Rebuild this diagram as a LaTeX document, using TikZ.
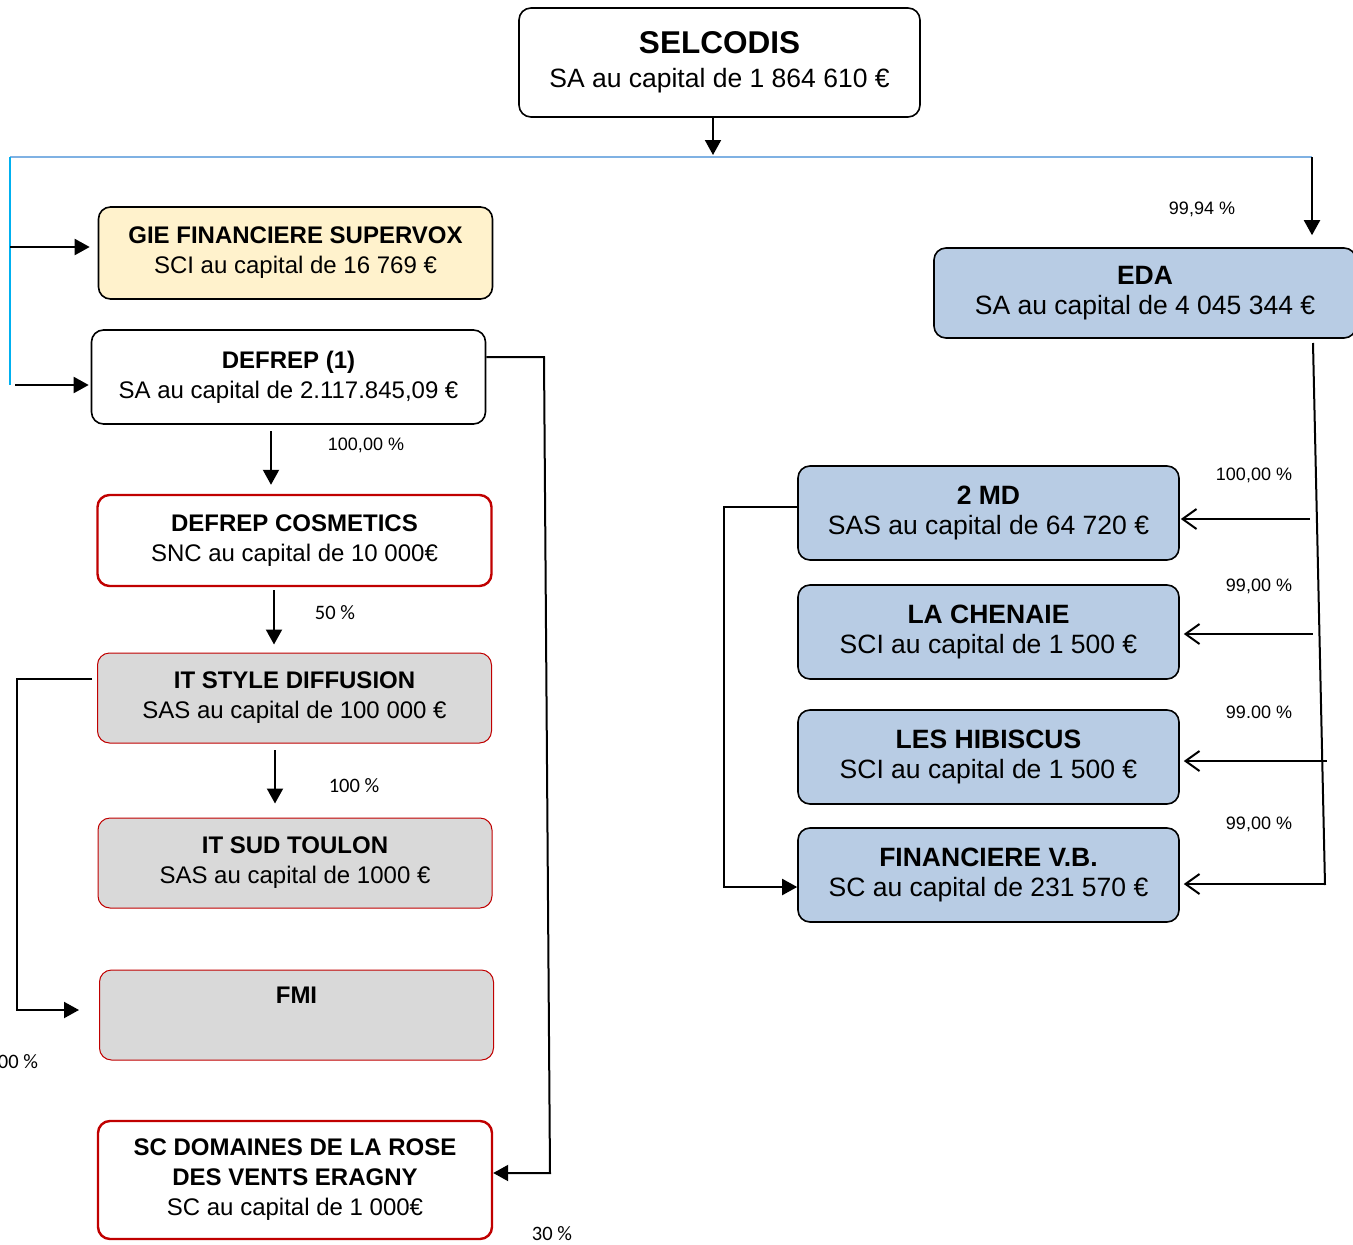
\documentclass[tikz,border=0pt]{standalone}
\usepackage{fontspec}
\setmainfont{Liberation Sans}
\newfontfamily\calib{Carlito}
\usetikzlibrary{arrows.meta}
\definecolor{creme}{HTML}{FFF2CC}
\definecolor{bleu}{HTML}{B8CCE4}
\definecolor{gris}{HTML}{D9D9D9}
\definecolor{rouge}{HTML}{C00000}
\definecolor{trait}{HTML}{7FB1E3}
\definecolor{ciel}{HTML}{00B0F0}
\tikzset{
  societe/.style={draw, line width=1.6pt, rounded corners=12pt, align=center, inner sep=0pt},
  gauche/.style={societe, minimum width=394pt, minimum height=92pt, font=\fontsize{24}{30}\selectfont},
  droite/.style={societe, fill=bleu, minimum width=381pt, minimum height=94pt, font=\fontsize{26.5}{30}\selectfont},
  rougefin/.style={draw=rouge, line width=1pt, fill=gris},
  rougeep/.style={draw=rouge, line width=2.4pt},
  pct/.style={font=\fontsize{18}{20}\selectfont},
  pctc/.style={font=\calib\fontsize{20.5}{22}\selectfont},
  ouvert/.style={{Straight Barb[length=14pt,width=20pt]}-},
}
\begin{document}
\begin{tikzpicture}[x=1pt, y=-1pt, >={Triangle[length=15pt,width=16pt]}, line width=2pt]
\useasboundingbox (0,0) rectangle (1353,1245);
\node[societe, minimum width=401pt, minimum height=109pt, font=\fontsize{26.5}{34}\selectfont] (selcodis) at (719.5,62.5) {{\fontsize{31.5}{34}\selectfont\textbf{SELCODIS}}\\SA au capital de 1 864 610 €};
\node[gauche, fill=creme] (gie) at (295.5,253) {\textbf{GIE FINANCIERE SUPERVOX}\\SCI au capital de 16 769 €};
\node[gauche, minimum height=94pt] (defrep) at (288.5,377) {\textbf{DEFREP (1)}\\SA au capital de 2.117.845,09 €};
\node[gauche, rougeep, minimum height=91pt] (cosmetics) at (294.5,540.5) {\textbf{DEFREP COSMETICS}\\SNC au capital de 10 000€};
\node[gauche, rougefin, minimum height=90pt] (itstyle) at (294.5,698) {\textbf{IT STYLE DIFFUSION}\\SAS au capital de 100 000 €};
\node[gauche, rougefin, minimum height=90pt] (itsud) at (295,863) {\textbf{IT SUD TOULON}\\SAS au capital de 1000 €};
\node[gauche, rougefin, minimum height=90pt] (fmi) at (296.5,1015) {\textbf{FMI}\\ \strut};
\node[gauche, rougeep, minimum height=118pt] (domaines) at (295,1180) {\textbf{SC DOMAINES DE LA ROSE}\\\textbf{DES VENTS ERAGNY}\\SC au capital de 1 000€};
\node[droite, minimum width=422pt, minimum height=90pt] (eda) at (1145,293) {\textbf{EDA}\\SA au capital de 4 045 344 €};
\node[droite] (md) at (988.5,513) {\textbf{2 MD}\\SAS au capital de 64 720 €};
\node[droite] (chenaie) at (988.5,632) {\textbf{LA CHENAIE}\\SCI au capital de 1 500 €};
\node[droite] (hibiscus) at (988.5,757) {\textbf{LES HIBISCUS}\\SCI au capital de 1 500 €};
\node[droite] (finvb) at (988.5,875) {\textbf{FINANCIERE V.B.}\\SC au capital de 231 570 €};
\node[pct] (p1) at (1202,209) {99,94 \%};
\node[pct] (p2) at (366,445) {100,00 \%};
\node[pctc] (p3) at (335,613) {50 \%};
\node[pctc] (p4) at (354,786) {100 \%};
\node[pctc] (p5) at (18,1062) {00 \%};
\node[pctc] (p6) at (552,1234) {30 \%};
\node[pct] (p7) at (1254,475) {100,00 \%};
\node[pct] (p8) at (1259,586) {99,00 \%};
\node[pct] (p9) at (1259,712) {99.00 \%};
\node[pct] (p10) at (1259,824) {99,00 \%};
\coordinate (gb) at (10,157);
\coordinate (db) at (1312,157);
\coordinate (mb) at (713,157);
\coordinate (gbas) at (10,385);
\draw[->, shorten >=2pt] (selcodis.south -| mb) -- (mb);
\draw[trait, line width=1.5pt] (gb) -- (db);
\draw[ciel, line width=1.5pt] (gb) -- (gbas);
\draw[->, shorten >=12pt] (db) -- (db |- eda.north);
\coordinate (ga) at (10,247);
\draw[->, shorten >=8pt] (ga) -- (ga -| gie.west);
\coordinate (da) at (15,385);
\draw[->, shorten >=2pt] (da) -- (da -| defrep.west);
\coordinate (v1) at (271,431);
\draw[->, shorten >=9pt] (v1) -- (v1 |- cosmetics.north);
\coordinate (v2) at (274,590);
\draw[->, shorten >=8pt] (v2) -- (v2 |- itstyle.north);
\coordinate (v3) at (275,750);
\draw[->, shorten >=14pt] (v3) -- (v3 |- itsud.north);
\coordinate (r1) at (544,357);
\coordinate (r2) at (550,1173);
\draw[->] (r1 -| defrep.east) -- (r1) -- (r2) -- (r2 -| domaines.east);
\coordinate (f1) at (17,679);
\coordinate (f2) at (17,1010);
\draw[->, shorten <=5pt, shorten >=20pt] (f1 -| itstyle.west) -- (f1) -- (f2) -- (f2 -| fmi.west);
\coordinate (e1) at (1313,343);
\coordinate (e2) at (1325,885);
\draw (e1) -- (e2);
\coordinate (o1) at (1310,519);
\draw[ouvert, shorten <=1pt] (o1 -| md.east) -- (o1);
\coordinate (o2) at (1313,634);
\draw[ouvert, shorten <=4pt] (o2 -| chenaie.east) -- (o2);
\coordinate (o3) at (1327,761);
\draw[ouvert, shorten <=4pt] (o3 -| hibiscus.east) -- (o3);
\coordinate (o4) at (1325,884);
\draw[ouvert, shorten <=4pt] (o4 -| finvb.east) -- (o4);
\coordinate (m1) at (724,507);
\coordinate (m2) at (724,887);
\draw[->] (m1 -| md.west) -- (m1) -- (m2) -- (m2 -| finvb.west);
\end{tikzpicture}
\end{document}
